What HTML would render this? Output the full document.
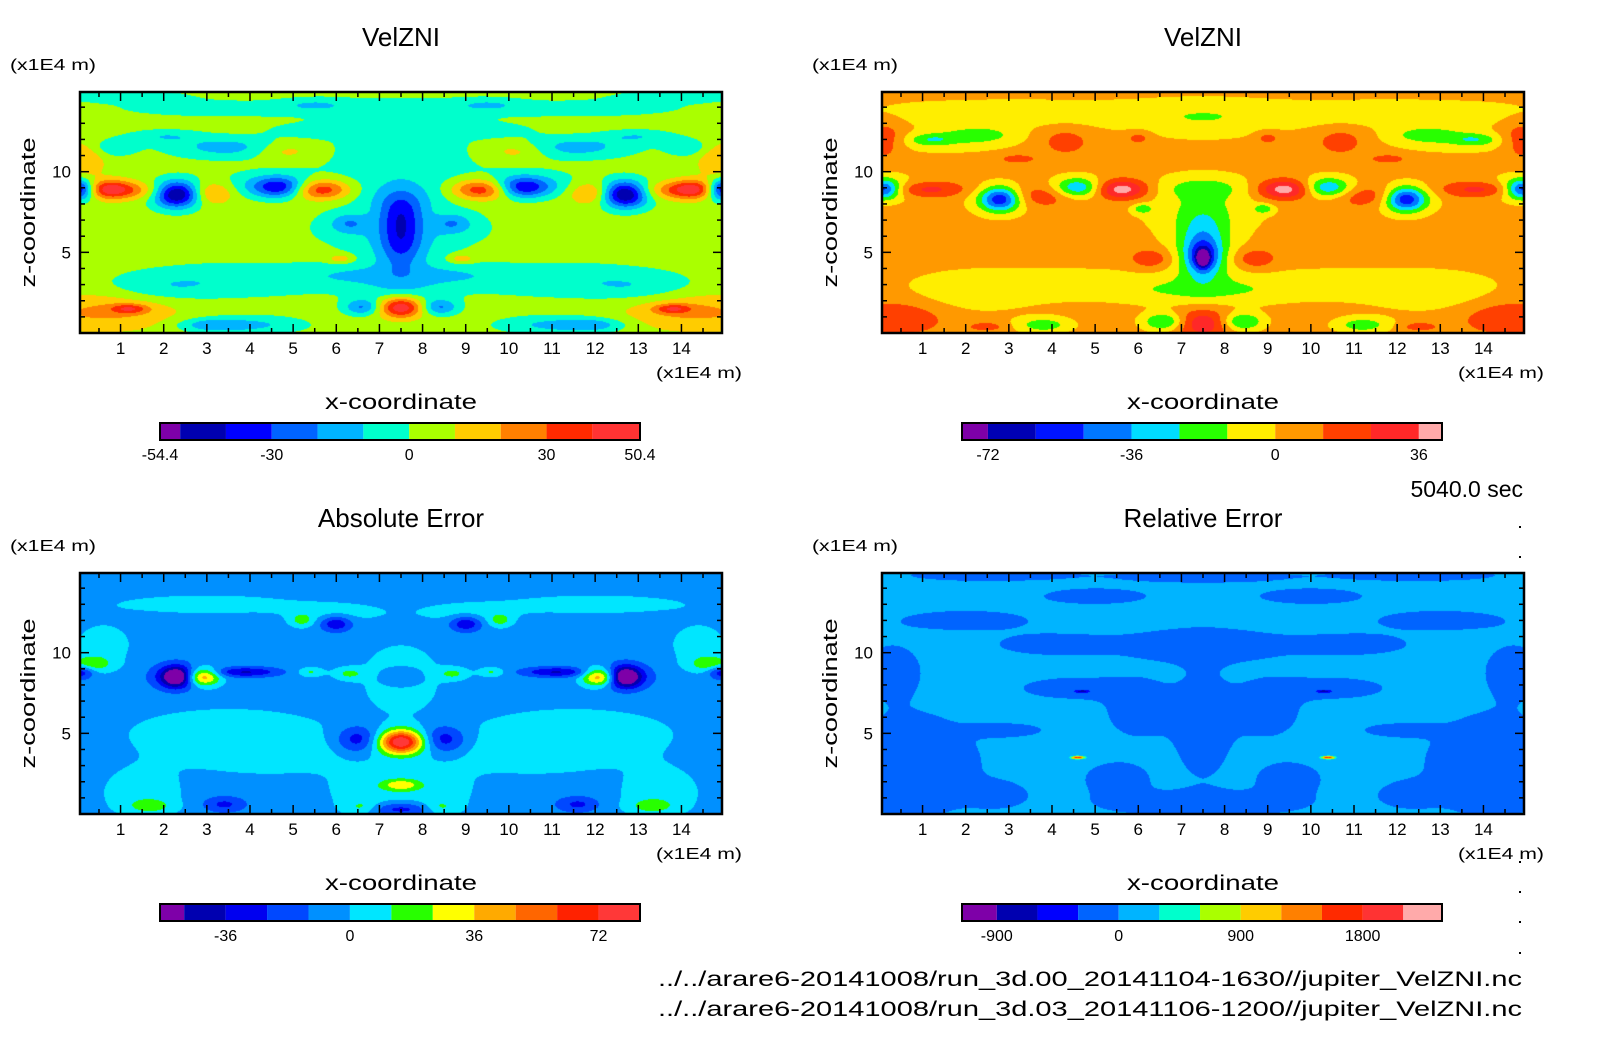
<!DOCTYPE html>
<html><head><meta charset="utf-8"><title>VelZNI comparison</title>
<style>
html,body{margin:0;padding:0;background:#fff;}
#wrap{position:relative;width:1604px;height:1054px;overflow:hidden;background:#fff;font-family:"Liberation Sans",sans-serif;}
canvas{position:absolute;}
svg{position:absolute;left:0;top:0;}
</style></head>
<body>
<div id="wrap">
<canvas id="c1" width="642" height="241" style="left:80px;top:92px"></canvas>
<canvas id="c2" width="642" height="241" style="left:882px;top:92px"></canvas>
<canvas id="c3" width="642" height="241" style="left:80px;top:573px"></canvas>
<canvas id="c4" width="642" height="241" style="left:882px;top:573px"></canvas>
<svg id="ov" width="1604" height="1054" xmlns="http://www.w3.org/2000/svg">
<text x="1523" y="497" text-anchor="end" font-size="23" font-family="Liberation Sans, sans-serif">5040.0 sec</text>
<text x="658" y="986" font-size="21" textLength="864" lengthAdjust="spacingAndGlyphs" font-family="Liberation Sans, sans-serif">../../arare6-20141008/run_3d.00_20141104-1630//jupiter_VelZNI.nc</text>
<text x="658" y="1016" font-size="21" textLength="864" lengthAdjust="spacingAndGlyphs" font-family="Liberation Sans, sans-serif">../../arare6-20141008/run_3d.03_20141106-1200//jupiter_VelZNI.nc</text>
<rect x="1519" y="526" width="2" height="2" fill="#000"/>
<rect x="1519" y="556" width="2" height="2" fill="#000"/>
<rect x="1519" y="861" width="2" height="2" fill="#000"/>
<rect x="1519" y="891" width="2" height="2" fill="#000"/>
<rect x="1519" y="921" width="2" height="2" fill="#000"/>
<rect x="1519" y="952" width="2" height="2" fill="#000"/>
</svg>
</div>
<script>
// ---------- data ----------
const xTicks = [1,2,3,4,5,6,7,8,9,10,11,12,13,14];
const zTicks = [5,10];
const titles = ["VelZNI","VelZNI","Absolute Error","Relative Error"];

const colors1 = ['#7e00a8','#0000b0','#0000ff','#0064ff','#00b4ff','#00ffcc','#aaff00','#ffcc00','#ff8000','#ff2a00','#ff3333'];
const levels1 = [-50,-40,-30,-20,-10,0,10,20,30,40];
const range1 = [-54.4,50.4];
const cbLabels1 = ["-54.4","-30","0","30","50.4"];
const cbValues1 = [-54.4,-30,0,30,50.4];
const base1 = 5;
const blobs1 = [
 [3.5,13.9,2.0,0.4,-10],[7.5,13.3,1.2,0.9,-11],[1,14.7,1.2,0.3,-10],[5.5,14.2,0.6,0.3,-10],
 [3.5,11.5,1.0,0.5,-19],[0.8,11.5,0.4,0.4,-13],[2,12.2,0.6,0.3,-13],[5.6,12.6,0.8,0.3,-10],
 [4.8,11.3,0.5,0.4,14],[0.2,10.8,0.3,0.8,15],[7.5,10.5,1.3,1.4,-11],
 [0.05,8.9,0.25,0.45,-50],[0.75,8.9,0.4,0.4,42],[2.3,8.6,0.35,0.55,-48],[2.3,8.6,0.55,0.75,-12],
 [3.1,8.7,0.35,0.5,22],[1.6,8.8,0.5,0.4,14],[4.7,9.0,0.45,0.45,-38],[4.5,9.3,0.9,0.6,-12],
 [5.6,8.9,0.5,0.45,40],
 [7.5,6.2,0.33,1.5,-28],[7.5,7.6,0.45,0.8,-16],[7.5,5.2,0.7,1.1,-14],[7.5,8.5,0.9,0.7,-9],
 [6.3,6.8,0.3,0.4,-16],[6.3,6.5,0.8,0.9,-9],[6.1,4.6,0.2,0.2,16],
 [3.8,3.3,1.8,0.8,-12],[2.0,2.8,0.9,0.6,-9],[6.4,3.6,0.9,0.5,-10],[7.5,2.6,0.8,0.6,-10],
 [4,0.5,0.9,0.4,-17],[3.0,0.5,0.5,0.3,-15],
 [7.5,1.6,0.35,0.45,45],[6.6,1.6,0.3,0.35,-25],
 [0.6,1.3,1.2,0.8,17],[1.2,1.5,0.3,0.2,25]
];

const colors2 = ['#7e00a8','#0000b4','#0014ff','#0078ff','#00dcff','#28ff00','#ffee00','#ff9900','#ff4000','#ff2828','#ffaaaa'];
const levels2 = [-72,-60,-48,-36,-24,-12,0,12,24,36];
const range2 = [-78.5,41.8];
const cbLabels2 = ["-72","-36","0","36"];
const cbValues2 = [-72,-36,0,36];
const base2 = 5;
const blobs2 = [
 [3,13.6,3.0,0.7,-11],[7.5,13.2,1.2,0.9,-11],[1.5,11.8,1.2,0.5,-11],
 [2.3,12.3,0.6,0.35,-18],[1.2,12.0,0.35,0.25,-18],
 [0.15,12,0.3,0.8,18],[4.3,11.9,0.4,0.6,14],[6.0,12.1,0.2,0.3,14],[3.2,10.8,0.3,0.2,14],
 [0.1,8.9,0.25,0.4,-45],[0.2,9,0.5,0.6,-20],[1.0,8.9,0.7,0.35,25],
 [2.8,8.3,0.3,0.5,-45],[2.8,8.3,0.5,0.7,-22],[3.7,8.5,0.6,0.5,20],
 [4.6,9,0.35,0.4,-28],[4.6,9,0.55,0.6,-15],[5.6,8.9,0.45,0.45,42],
 [7.5,8.0,1.2,1.4,-12],[7.5,9,0.7,0.45,-14],[7.5,5.5,0.4,1.6,-26],[7.5,4.7,0.25,0.7,-38],
 [7.5,4.6,0.1,0.35,-40],[7.5,5.2,0.6,1.6,-12],
 [6.3,4.6,0.35,0.45,18],
 [4.2,3.0,2.0,0.8,-11],[2,2.4,1.0,0.9,-10],[6.6,2.6,0.8,0.6,-10],
 [7.5,0.6,0.45,0.6,30],[6.6,0.7,0.35,0.4,-32],[3.8,0.5,0.45,0.35,-24],
 [0.5,1,0.8,0.8,16],[2.5,0.4,0.3,0.2,14],[6.1,7.7,0.15,0.2,-22]
];

const colors3 = ['#7e00a8','#0000b0','#0000f0','#0048ff','#0090ff','#00e6ff','#28ff00','#ffff00','#ffaa00','#ff6600','#ff2200','#ff3838'];
const levels3 = [-48,-36,-24,-12,0,12,24,36,48,60,72];
const range3 = [-55,84];
const cbLabels3 = ["-36","0","36","72"];
const cbValues3 = [-36,0,36,72];
const base3 = -5;
const blobs3 = [
 [3.5,5,1.8,1.2,11],[4.5,3.6,1.2,0.8,10],[1.5,1.3,0.7,1.2,11],[7.5,8.5,0.8,1.8,9],
 [6.7,1.5,0.7,1.2,10],[3,13,1.8,0.5,9],[6,12.5,0.8,0.4,9],[0.6,10.5,0.5,1.0,10],
 [2.3,8.5,0.25,0.45,-50],[2.3,8.5,0.45,0.6,-22],[2.9,8.5,0.28,0.4,55],[3.9,8.8,0.55,0.22,-32],
 [0.3,9.3,0.35,0.35,25],[0.1,8.8,0.2,0.3,-30],
 [6.0,11.8,0.25,0.35,-30],[5.2,12.0,0.2,0.3,20],[6.3,8.7,0.25,0.25,18],[5.4,8.8,0.2,0.2,18],
 [7.5,4.5,0.33,0.5,70],[7.5,4.3,0.55,0.55,18],[6.5,4.6,0.35,0.6,-30],
 [7.5,1.8,0.3,0.25,30],[7.5,0.3,0.6,0.3,-28],[6.6,0.4,0.3,0.3,18],[1.7,0.5,0.35,0.3,18],
 [3.4,0.6,0.35,0.35,-22],[7.5,8.5,0.3,0.4,-14]
];

const colors4 = ['#7e00a8','#0000b0','#0000ff','#0064ff','#00b4ff','#00ffcc','#aaff00','#ffcc00','#ff8000','#ff2a00','#ff3333','#ffaaaa'];
const levels4 = [-900,-600,-300,0,300,600,900,1200,1500,1800,2100];
const range4 = [-1157,2386];
const cbLabels4 = ["-900","0","900","1800"];
const cbValues4 = [-900,0,900,1800];
const base4 = 150;
const blobs4 = [
 [0.8,3,1.2,2.5,-350],[7.5,5.5,0.5,2.5,-330],[7.5,0.6,1.8,0.6,-330],[4.5,7.8,0.9,0.5,-330],
 [6,6.5,0.6,1.4,-300],[7.5,10.5,1.5,0.8,-330],[4,10.5,1.0,0.5,-300],[2,12,1.2,0.5,-300],
 [5,13.5,1,0.4,-300],[0.3,9,0.5,1.2,-300],[7.5,14.7,1.5,0.3,-300],[2.5,14.8,1.5,0.3,-300],
 [3,5.2,0.6,0.3,-300],[5.5,2.2,0.6,0.8,-300],[2.8,1.2,0.5,0.6,-250],
 [4.6,3.5,0.1,0.06,1700],[4.7,7.6,0.1,0.06,-700]
];

const panels = [
 {cv:'c1',ox:80,oy:92,colors:colors1,levels:levels1,range:range1,lab:cbLabels1,val:cbValues1,base:base1,blobs:blobs1,name:'velzni-a'},
 {cv:'c2',ox:882,oy:92,colors:colors2,levels:levels2,range:range2,lab:cbLabels2,val:cbValues2,base:base2,blobs:blobs2,name:'velzni-b'},
 {cv:'c3',ox:80,oy:573,colors:colors3,levels:levels3,range:range3,lab:cbLabels3,val:cbValues3,base:base3,blobs:blobs3,name:'absolute-error'},
 {cv:'c4',ox:882,oy:573,colors:colors4,levels:levels4,range:range4,lab:cbLabels4,val:cbValues4,base:base4,blobs:blobs4,name:'relative-error'}
];
titles.forEach((t,i)=>panels[i].title=t);

// ---------- geometry ----------
const PW=642, PH=241, X0=0.06, X1=14.94, Z0=0.0, Z1=14.94;
function xs(x){return (x-X0)/(X1-X0)*PW;}
function zs(z){return PH-(z-Z0)/(Z1-Z0)*PH;}
function hex(c){return [parseInt(c.slice(1,3),16),parseInt(c.slice(3,5),16),parseInt(c.slice(5,7),16)];}

const NS='http://www.w3.org/2000/svg';
const ov=document.getElementById('ov');
function mk(tag,attrs,parent){const e=document.createElementNS(NS,tag);for(const k in attrs)e.setAttribute(k,attrs[k]);(parent||ov).appendChild(e);return e;}
function txt(s,x,y,size,anchor,name,extra,parent){const e=mk('text',Object.assign({x:x,y:y,'font-size':size,'text-anchor':anchor||'start','font-family':'Liberation Sans, sans-serif',fill:'#000'},extra||{}),parent);e.textContent=s;


return e;}

panels.forEach(p=>{
  const bl=[];
  p.blobs.forEach(b=>{bl.push(b); if(Math.abs(b[0]-7.5)>0.05) bl.push([15-b[0],b[1],b[2],b[3],b[4]]);});
  const cv=document.getElementById(p.cv), ctx=cv.getContext('2d');
  const img=ctx.createImageData(PW,PH), d=img.data;
  const rgb=p.colors.map(hex);
  for(let j=0;j<PH;j++){
    const z=Z1-(j+0.5)/PH*(Z1-Z0);
    for(let i=0;i<PW;i++){
      const x=X0+(i+0.5)/PW*(X1-X0);
      let v=p.base;
      for(let k=0;k<bl.length;k++){const b=bl[k];const dx=(x-b[0])/b[2],dz=(z-b[1])/b[3];const q=dx*dx+dz*dz;if(q<25)v+=b[4]*Math.exp(-0.5*q);}
      let idx=0;while(idx<p.levels.length&&v>=p.levels[idx])idx++;
      const c=rgb[idx],o=(j*PW+i)*4;d[o]=c[0];d[o+1]=c[1];d[o+2]=c[2];d[o+3]=255;
    }
  }
  ctx.putImageData(img,0,0);

  const g=mk('g',{transform:`translate(${p.ox},${p.oy})`});
  
  
  const fr=mk('rect',{x:0,y:0,width:PW,height:PH,fill:'none',stroke:'#000','stroke-width':2.5},g);
  
  
  for(let h=1;h<=29;h++){const x=h/2;const px=xs(x);const L=(h%2===0)?9:5;
    const t1=mk('line',{x1:px,y1:PH,x2:px,y2:PH-L,stroke:'#000','stroke-width':1.5},g);
    
    
    const t2=mk('line',{x1:px,y1:0,x2:px,y2:L,stroke:'#000','stroke-width':1.5},g);
    
    
  }
  for(let z=1;z<=14;z++){const py=zs(z);const L=(z%5===0)?9:5;
    const t1=mk('line',{x1:0,y1:py,x2:L,y2:py,stroke:'#000','stroke-width':1.5},g);
    
    
    const t2=mk('line',{x1:PW,y1:py,x2:PW-L,y2:py,stroke:'#000','stroke-width':1.5},g);
    
    
  }
  xTicks.forEach(v=>txt(String(v),xs(v),PH+21,17,'middle','x-tick-label',{},g));
  zTicks.forEach(v=>txt(String(v),-9,zs(v)+6,17,'end','z-tick-label',{},g));
  const cx=p.ox+PW/2;
  txt(p.title,cx,p.oy-46,26,'middle','plot-title');
  txt('(x1E4 m)',p.ox-70,p.oy-22,16,'start','z-unit-label',{textLength:86,lengthAdjust:'spacingAndGlyphs'});
  txt('(x1E4 m)',p.ox+PW-66,p.oy+PH+45,16,'start','x-unit-label',{textLength:86,lengthAdjust:'spacingAndGlyphs'});
  txt('x-coordinate',cx,p.oy+PH+76,21,'middle','x-axis-title',{textLength:152,lengthAdjust:'spacingAndGlyphs'});
  const zl=txt('z-coordinate',0,0,20,'middle','z-axis-title',{textLength:150,lengthAdjust:'spacingAndGlyphs'});
  zl.setAttribute('transform',`translate(${p.ox-45},${p.oy+PH/2}) rotate(-90)`);
  const bx0=p.ox+80, bx1=p.ox+560, by=p.oy+331, bh=17;
  const bs=v=>bx0+(v-p.range[0])/(p.range[1]-p.range[0])*(bx1-bx0);
  const edges=[p.range[0]].concat(p.levels,[p.range[1]]);
  for(let k=0;k<p.colors.length;k++){
    const r=mk('rect',{x:bs(edges[k]),y:by,width:bs(edges[k+1])-bs(edges[k]),height:bh,fill:p.colors[k]});
    
    
  }
  const cf=mk('rect',{x:bx0,y:by,width:bx1-bx0,height:bh,fill:'none',stroke:'#000','stroke-width':2});
  
  
  p.val.forEach((v,i)=>txt(p.lab[i],bs(v),by+bh+20,16,'middle','colorbar-label'));
});
</script>
</body></html>
